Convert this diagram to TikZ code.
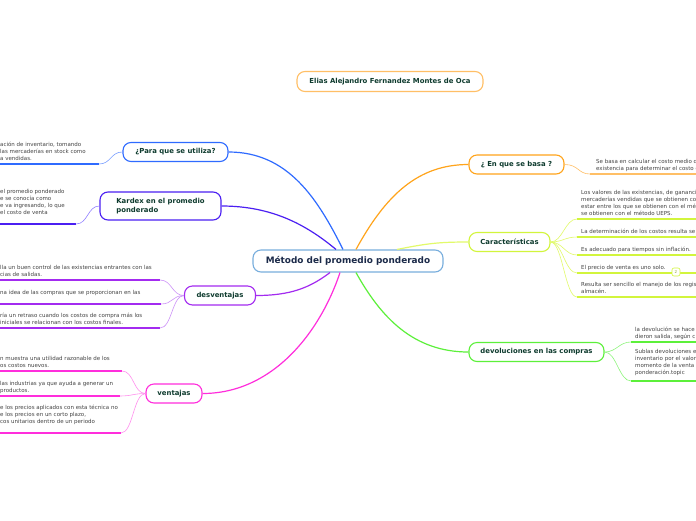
\documentclass[tikz,border=0pt]{standalone}
\usepackage{fontspec}
\setmainfont{DejaVu Sans}
\definecolor{mmnavy}{HTML}{1B2A49}
\definecolor{mmtext}{HTML}{0E3B2E}
\definecolor{mmgray}{HTML}{444444}
\definecolor{mmcentral}{HTML}{78AEDD}
\definecolor{mmorange}{HTML}{FFA41B}
\definecolor{mmorangel}{HTML}{FFBF66}
\definecolor{mmyellow}{HTML}{D2F53C}
\definecolor{mmyellowl}{HTML}{E2FA6A}
\definecolor{mmgreen}{HTML}{5CF03A}
\definecolor{mmgreenl}{HTML}{8CF57A}
\definecolor{mmblue}{HTML}{2F6BFF}
\definecolor{mmbluel}{HTML}{7A9FFF}
\definecolor{mmindigo}{HTML}{4B1FF2}
\definecolor{mmindigol}{HTML}{9484FF}
\definecolor{mmpurple}{HTML}{A32BF0}
\definecolor{mmpurplel}{HTML}{CD93F8}
\definecolor{mmmagenta}{HTML}{FF2EDC}
\definecolor{mmmagental}{HTML}{FF8FEE}
\usetikzlibrary{positioning,calc}

\begin{document}
\begin{tikzpicture}[x=1pt, y=-1pt,
  topic/.style={draw=#1, line width=1.1pt, fill=white, rounded corners=8pt, minimum height=19pt, inner sep=0pt, font=\bfseries\fontsize{6.9}{8.4}\selectfont, text=mmtext},
  leaf/.style={anchor=south west, align=left, inner xsep=4pt, inner ysep=2.3pt, text depth=1.3pt, font=\fontsize{5.5}{6.9}\selectfont, text=mmgray},
  trunk/.style={line width=1.2pt, draw=#1},
  twig/.style={line width=0.6pt, draw=#1},
  uline/.style={line width=1.5pt, draw=#1}]
  \useasboundingbox (0,0) rectangle (696,520);
  \fill[white] (0,0) rectangle (696,520);
  \clip (0,0) rectangle (696,520);

  % centro y autor
  \node[draw=mmcentral, line width=1.1pt, fill=white, rounded corners=8pt, minimum width=190pt, minimum height=22pt, font=\bfseries\fontsize{8.9}{10.5}\selectfont, text=mmnavy] (central) at (348,261) {Método del promedio ponderado};
  \node[topic=mmorangel, minimum width=186pt, minimum height=20pt] (autor) at (390,81.5) {Elias Alejandro Fernandez Montes de Oca};

  % ramas derechas
  \node[topic=mmorange, minimum width=95pt] (basa) at (516.5,164.5) {¿ En que se basa ?};
  \node[topic=mmyellow, minimum width=81pt] (carac) at (509.5,242) {Características};
  \node[topic=mmgreen, minimum width=135pt] (devol) at (536.5,352) {devoluciones en las compras};

  % ramas izquierdas
  \node[topic=mmblue, minimum width=105pt] (utiliza) at (175.5,152) {¿Para que se utiliza?};
  \node[topic=mmindigo, minimum width=121pt, minimum height=28pt, align=left] (kardex) at (160.5,206) {Kardex en el promedio\\ponderado};
  \node[topic=mmpurple, minimum width=71pt] (desv) at (220,295.5) {desventajas};
  \node[topic=mmmagenta, minimum width=56pt] (vent) at (174,393.5) {ventajas};

  \draw[trunk=mmorange] ([xshift=8pt]central.north) .. controls +(30,-55) and +(-50,0) .. (basa.west);
  \draw[trunk=mmyellowl] ([xshift=49pt]central.north) .. controls +(30,-6) and +(-30,0) .. (carac.west);
  \draw[trunk=mmgreen] ([xshift=8pt]central.south) .. controls +(25,45) and +(-55,0) .. (devol.west);
  \draw[trunk=mmblue] ([xshift=-5pt]central.north) .. controls +(-25,-50) and +(60,0) .. (utiliza.east);
  \draw[trunk=mmindigo] ([xshift=-12pt]central.north) .. controls +(-30,-25) and +(50,0) .. (kardex.east);
  \draw[trunk=mmpurple] ([xshift=-18pt]central.south) .. controls +(-20,15) and +(35,0) .. (desv.east);
  \draw[trunk=mmmagenta] ([xshift=-8pt]central.south) .. controls +(-20,60) and +(70,0) .. (vent.east);

  % hojas: se basa
  \node[leaf, inner xsep=6pt] (bas1) at (590,174) {Se basa en calcular el costo medio d\\existencia para determinar el costo c};
  \draw[uline=mmorangel] (bas1.south west) -- +(120,0);
  \draw[twig=mmorangel] (basa.east) .. controls +(14,0) and +(-12,0) .. (bas1.south west);

  % hojas: caracteristicas
  \node[leaf] (car1) at (577,219) {Los valores de las existencias, de gananci\\mercaderías vendidas que se obtienen co\\estar entre los que se obtienen con el mé\\se obtienen con el método UEPS.};
  \node[leaf] (car2) at (577,237) {La determinación de los costos resulta se};
  \node[leaf] (car3) at (577,255) {Es adecuado para tiempos sin inflación.};
  \node[leaf] (car4) at (577,273) {El precio de venta es uno solo.};
  \node[leaf] (car5) at (577,297) {Resulta ser sencillo el manejo de los regis\\almacén.};
  \foreach \h in {car1,car2,car3,car4,car5} {
    \draw[uline=mmyellow] (\h.south west) -- +(130,0);
    \draw[twig=mmyellowl] (carac.east) .. controls +(12,0) and +(-12,0) .. (\h.south west);
  }
  \node[draw=mmyellow, line width=0.6pt, fill=white, rounded corners=2pt, minimum size=8pt, inner sep=0pt, font=\fontsize{4}{4}\selectfont, text=mmyellow!70!black] (badge) at (676,272) {2};

  % hojas: devoluciones
  \node[leaf] (dev1) at (631,342) {la devolución se hace\\dieron salida, según c};
  \node[leaf, inner ysep=5pt] (dev2) at (631,381) {Sublas devoluciones e\\inventario por el valor\\momento de la venta\\ponderación.topic};
  \foreach \h in {dev1,dev2} {
    \draw[uline=mmgreen] (\h.south west) -- +(80,0);
    \draw[twig=mmgreenl] (devol.east) .. controls +(12,0) and +(-12,0) .. (\h.south west);
  }

  % hojas: para que se utiliza
  \node[leaf] (pu1) at (-4,164) {ación de inventario, tomando\\las mercaderías en stock como\\a vendidas.};
  \coordinate (pu1e) at (99,164);
  \draw[uline=mmblue] (pu1.south west) -- (pu1e);
  \draw[twig=mmbluel] (utiliza.west) .. controls +(-12,0) and +(12,0) .. (pu1e);

  % hojas: kardex
  \node[leaf, inner ysep=8pt] (kar1) at (-4,224) {el promedio ponderado\\e se conocía como\\e va ingresando, lo que\\el costo de venta};
  \coordinate (kar1e) at (76,224);
  \draw[uline=mmindigo] (kar1.south west) -- (kar1e);
  \draw[twig=mmindigol] (kardex.west) .. controls +(-12,0) and +(12,0) .. (kar1e);

  % hojas: desventajas
  \node[leaf] (des1) at (-4,280) {lla un buen control de las existencias entrantes con las\\cias de salidas.};
  \node[leaf, inner ysep=8pt] (des2) at (-4,304) {na idea de las compras que se proporcionan en las};
  \node[leaf] (des3) at (-4,328) {ría un retraso cuando los costos de compra más los\\iniciales se relacionan con los costos finales.};
  \coordinate (des1e) at (160,280);
  \coordinate (des2e) at (161,304);
  \coordinate (des3e) at (160,328);
  \foreach \h in {des1,des2,des3} {
    \draw[uline=mmpurple] (\h.south west) -- (\h e);
    \draw[twig=mmpurplel] (desv.west) .. controls +(-12,0) and +(12,0) .. (\h e);
  }

  % hojas: ventajas
  \node[leaf] (ven1) at (-4,371) {n muestra una utilidad razonable de los\\os costos nuevos.};
  \node[leaf] (ven2) at (-4,396) {las industrias ya que ayuda a generar un\\productos.};
  \node[leaf, inner ysep=8pt] (ven3) at (-4,433) {e los precios aplicados con esta técnica no\\e los precios en un corto plazo,\\cos unitarios dentro de un periodo};
  \coordinate (ven1e) at (122,371);
  \coordinate (ven2e) at (120,396);
  \coordinate (ven3e) at (121,433);
  \foreach \h in {ven1,ven2,ven3} {
    \draw[uline=mmmagenta] (\h.south west) -- (\h e);
    \draw[twig=mmmagental] (vent.west) .. controls +(-12,0) and +(12,0) .. (\h e);
  }
\end{tikzpicture}
\end{document}
